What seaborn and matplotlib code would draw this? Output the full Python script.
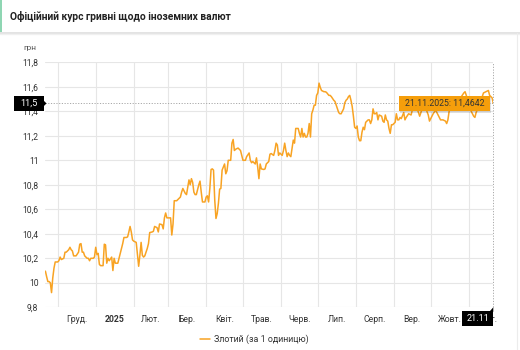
import matplotlib
matplotlib.use("Agg")
import matplotlib.pyplot as plt
import matplotlib.dates as mdates
from matplotlib.patches import Rectangle, Polygon
from matplotlib.lines import Line2D
from matplotlib.transforms import IdentityTransform
import pandas as pd
import seaborn as sns

# ---------------------------------------------------------------- data
title = "Офіційний курс гривні щодо іноземних валют"
unit_label = "грн"
series_name = "Злотий (за 1 одиницю)"

dates = [
    "2024-11-21", "2024-11-22", "2024-11-23", "2024-11-24", "2024-11-25", "2024-11-26",
    "2024-11-27", "2024-11-28", "2024-11-29",
    "2024-12-01", "2024-12-02", "2024-12-03", "2024-12-04", "2024-12-06", "2024-12-07",
    "2024-12-08", "2024-12-10", "2024-12-11", "2024-12-12", "2024-12-13", "2024-12-14",
    "2024-12-16", "2024-12-18", "2024-12-19", "2024-12-20", "2024-12-21", "2024-12-22",
    "2024-12-23", "2024-12-25", "2024-12-26", "2024-12-27", "2024-12-28", "2024-12-30",
    "2024-12-31",
    "2025-01-01", "2025-01-02", "2025-01-03", "2025-01-04", "2025-01-05", "2025-01-07",
    "2025-01-08", "2025-01-09", "2025-01-10", "2025-01-11", "2025-01-12", "2025-01-14",
    "2025-01-15", "2025-01-16", "2025-01-17", "2025-01-19", "2025-01-20", "2025-01-21",
    "2025-01-23", "2025-01-24", "2025-01-26", "2025-01-27", "2025-01-28", "2025-01-29",
    "2025-01-30", "2025-01-31",
    "2025-02-01", "2025-02-03", "2025-02-05", "2025-02-06", "2025-02-07", "2025-02-08",
    "2025-02-09", "2025-02-10", "2025-02-11", "2025-02-12", "2025-02-13", "2025-02-14",
    "2025-02-16", "2025-02-17", "2025-02-18", "2025-02-20", "2025-02-21", "2025-02-22",
    "2025-02-24", "2025-02-25", "2025-02-26", "2025-02-27", "2025-02-28",
    "2025-03-01", "2025-03-03", "2025-03-04", "2025-03-05", "2025-03-06", "2025-03-08",
    "2025-03-09", "2025-03-11", "2025-03-12", "2025-03-13", "2025-03-15", "2025-03-16",
    "2025-03-17", "2025-03-18", "2025-03-19", "2025-03-20", "2025-03-21", "2025-03-22",
    "2025-03-23", "2025-03-24", "2025-03-26", "2025-03-27", "2025-03-28", "2025-03-29",
    "2025-03-31",
    "2025-04-01", "2025-04-02", "2025-04-03", "2025-04-04", "2025-04-05", "2025-04-06",
    "2025-04-07", "2025-04-08", "2025-04-09", "2025-04-10", "2025-04-11", "2025-04-12",
    "2025-04-13", "2025-04-14", "2025-04-16", "2025-04-17", "2025-04-18", "2025-04-19",
    "2025-04-20", "2025-04-21", "2025-04-22", "2025-04-23", "2025-04-24", "2025-04-25",
    "2025-04-27", "2025-04-29", "2025-04-30",
    "2025-05-01", "2025-05-03", "2025-05-04", "2025-05-06", "2025-05-07", "2025-05-08",
    "2025-05-09", "2025-05-11", "2025-05-12", "2025-05-13", "2025-05-14", "2025-05-15",
    "2025-05-16", "2025-05-18", "2025-05-19", "2025-05-20", "2025-05-22", "2025-05-23",
    "2025-05-24", "2025-05-26", "2025-05-27", "2025-05-28", "2025-05-29", "2025-05-30",
    "2025-05-31",
    "2025-06-02", "2025-06-03", "2025-06-04", "2025-06-05", "2025-06-06", "2025-06-07",
    "2025-06-08", "2025-06-09", "2025-06-10", "2025-06-11", "2025-06-12", "2025-06-13",
    "2025-06-15", "2025-06-16", "2025-06-17", "2025-06-18", "2025-06-19", "2025-06-20",
    "2025-06-21", "2025-06-22", "2025-06-23", "2025-06-24", "2025-06-25", "2025-06-26",
    "2025-06-27", "2025-06-28", "2025-06-29", "2025-06-30",
    "2025-07-01", "2025-07-02", "2025-07-03", "2025-07-04", "2025-07-06", "2025-07-07",
    "2025-07-08", "2025-07-10", "2025-07-11", "2025-07-12", "2025-07-14", "2025-07-15",
    "2025-07-16", "2025-07-18", "2025-07-19", "2025-07-20", "2025-07-22", "2025-07-23",
    "2025-07-24", "2025-07-25", "2025-07-26", "2025-07-27", "2025-07-28", "2025-07-29",
    "2025-07-30", "2025-07-31",
    "2025-08-01", "2025-08-02", "2025-08-03", "2025-08-04", "2025-08-05", "2025-08-06",
    "2025-08-07", "2025-08-08", "2025-08-09", "2025-08-10", "2025-08-11", "2025-08-12",
    "2025-08-13", "2025-08-14", "2025-08-15", "2025-08-16", "2025-08-17", "2025-08-18",
    "2025-08-19", "2025-08-20", "2025-08-22", "2025-08-23", "2025-08-24", "2025-08-25",
    "2025-08-26", "2025-08-27", "2025-08-28", "2025-08-29", "2025-08-30", "2025-08-31",
    "2025-09-01", "2025-09-02", "2025-09-03", "2025-09-04", "2025-09-05", "2025-09-06",
    "2025-09-07", "2025-09-09", "2025-09-10", "2025-09-11", "2025-09-13", "2025-09-15",
    "2025-09-16", "2025-09-18", "2025-09-20", "2025-09-22", "2025-09-24", "2025-09-26",
    "2025-09-29", "2025-09-30",
    "2025-10-02", "2025-10-03", "2025-10-05", "2025-10-07", "2025-10-09", "2025-10-11",
    "2025-10-13", "2025-10-14", "2025-10-15", "2025-10-16", "2025-10-18", "2025-10-21",
    "2025-10-24", "2025-10-26", "2025-10-28", "2025-10-29", "2025-10-30",
    "2025-11-01", "2025-11-03", "2025-11-05", "2025-11-06", "2025-11-07", "2025-11-10",
    "2025-11-12", "2025-11-13", "2025-11-15", "2025-11-17", "2025-11-18", "2025-11-20",
    "2025-11-21",
]

rates = [
    10.095, 10.05, 10.01, 10.01, 10.00, 9.92, 10.04, 10.12, 10.17,
    10.17, 10.18, 10.21, 10.19, 10.20, 10.25, 10.25, 10.27, 10.29, 10.27, 10.26, 10.22,
    10.22, 10.25, 10.315, 10.32, 10.25, 10.25, 10.22, 10.20, 10.20, 10.18, 10.20, 10.20,
    10.21,
    10.29, 10.23, 10.24, 10.15, 10.14, 10.14, 10.315, 10.31, 10.16, 10.20, 10.18, 10.21,
    10.10, 10.20, 10.16, 10.16, 10.20, 10.24, 10.32, 10.37, 10.37, 10.375, 10.415, 10.46,
    10.415, 10.35,
    10.34, 10.33, 10.135, 10.225, 10.33, 10.225, 10.21, 10.22, 10.25, 10.28, 10.32, 10.41,
    10.415, 10.42, 10.46, 10.45, 10.415, 10.48, 10.475, 10.44, 10.53, 10.57, 10.53,
    10.53, 10.53, 10.39, 10.48, 10.67, 10.67, 10.68, 10.70, 10.74, 10.77, 10.73, 10.72,
    10.78, 10.84, 10.80, 10.85, 10.82, 10.74, 10.72, 10.72, 10.80, 10.83, 10.74, 10.66,
    10.66,
    10.70, 10.71, 10.66, 10.77, 10.925, 10.93, 10.92, 10.675, 10.525, 10.565, 10.65, 10.765,
    10.77, 10.92, 10.97, 10.89, 10.915, 11.00, 11.00, 11.00, 11.14, 11.17, 11.08, 11.09,
    11.10, 11.08, 11.04,
    11.00, 11.00, 11.03, 11.06, 11.00, 10.98, 10.99, 10.97, 11.02, 10.945, 10.85, 10.97,
    10.93, 10.925, 10.93, 10.97, 10.99, 11.05, 11.055, 11.04, 11.08, 11.14, 11.125, 11.04,
    11.06,
    11.04, 11.08, 11.14, 11.08, 11.03, 11.06, 11.04, 11.03, 11.10, 11.165, 11.14, 11.26,
    11.26, 11.22, 11.19, 11.26, 11.19, 11.22, 11.19, 11.19, 11.22, 11.30, 11.19, 11.38,
    11.41, 11.45, 11.45, 11.53,
    11.55, 11.63, 11.595, 11.57, 11.56, 11.56, 11.555, 11.53, 11.53, 11.52, 11.49, 11.48,
    11.45, 11.39, 11.38, 11.38, 11.42, 11.47, 11.49, 11.50, 11.52, 11.53, 11.49, 11.44,
    11.36, 11.27,
    11.26, 11.28, 11.19, 11.16, 11.16, 11.23, 11.27, 11.25, 11.31, 11.32, 11.33, 11.33,
    11.30, 11.33, 11.42, 11.38, 11.38, 11.39, 11.33, 11.37, 11.36, 11.32, 11.31, 11.37,
    11.33, 11.32, 11.26, 11.22, 11.29, 11.29,
    11.30, 11.31, 11.38, 11.33, 11.33, 11.35, 11.34, 11.39, 11.33, 11.35, 11.38, 11.37,
    11.41, 11.44, 11.42, 11.36, 11.42, 11.45, 11.37, 11.32,
    11.36, 11.38, 11.41, 11.37, 11.33, 11.33, 11.32, 11.30, 11.33, 11.40, 11.45, 11.48,
    11.50, 11.52, 11.55, 11.56, 11.53,
    11.46, 11.40, 11.36, 11.35, 11.39, 11.46, 11.52, 11.55, 11.56, 11.57, 11.53, 11.51,
    11.4642,
]

month_labels = ["Груд.", "2025", "Лют.", "Бер.", "Квіт.", "Трав.", "Черв.",
                "Лип.", "Серп.", "Вер.", "Жовт.", "Лист."]
y_ticks = [9.8, 10.0, 10.2, 10.4, 10.6, 10.8, 11.0, 11.2, 11.4, 11.6, 11.8]

# ---------------------------------------------------------------- style
LINE = "#f8a323"
TOOLTIP = "#f59e0b"
GRID = "#e6e6e6"
TEXT = "#333333"

sns.set_theme(style="white")
plt.rcParams["font.family"] = ["Roboto", "DejaVu Sans"]

df = pd.DataFrame({"date": pd.to_datetime(dates), "rate": rates})

W, H = 520, 350
fig = plt.figure(figsize=(W / 100, H / 100), dpi=100)
fig.patch.set_facecolor("white")


def fx(px):
    return px / W


def fy(py):
    return 1 - py / H


# plot area in pixels (left, top, right, bottom)
PL, PT, PR, PB = 45.4, 62.3, 493.3, 307.3
ax = fig.add_axes([fx(PL), fy(PB), (PR - PL) / W, (PB - PT) / H])
ax.set_facecolor("white")

sns.lineplot(data=df, x="date", y="rate", ax=ax, color=LINE, lw=1.1,
             label=series_name, legend=False)

first, last = df["date"].iloc[0], df["date"].iloc[-1]
ax.set_xlim(first, last)
ax.set_ylim(y_ticks[0], y_ticks[-1])
ax.set_xlabel("")
ax.set_ylabel("")

# month gridlines at month starts, month names centred in each month
month_starts = pd.date_range("2024-12-01", "2025-12-01", freq="MS")
mids = [a + (b - a) / 2 for a, b in zip(month_starts[:-1], month_starts[1:])]
ax.set_xticks(month_starts[:-1])
ax.set_xticklabels([""] * (len(month_starts) - 1))
ax.set_xticks(mids, minor=True)
ax.set_xticklabels(month_labels, minor=True)
for lab in ax.get_xticklabels(minor=True):
    lab.set_fontsize(6.2)
    lab.set_color(TEXT)
    if lab.get_text() == "2025":
        lab.set_fontweight("bold")

ax.set_yticks(y_ticks)
ax.set_yticklabels([f"{v:g}".replace(".", ",") for v in y_ticks])
ax.tick_params(axis="y", length=0, pad=5, labelsize=6.2, labelcolor=TEXT)
ax.tick_params(axis="x", which="both", length=0, pad=5.5)

ax.grid(True, which="major", color=GRID, lw=0.8)
ax.grid(False, which="minor")
for s in ax.spines.values():
    s.set_visible(False)

# crosshair on the last value
last_rate = df["rate"].iloc[-1]
ax.axhline(last_rate, color="#a8a8a8", lw=0.7, ls=(0, (1.2, 1.6)), zorder=1)
ax.axvline(last, color="#a8a8a8", lw=0.7, ls=(0, (1.2, 1.6)), zorder=1, clip_on=False)

fig.canvas.draw()
ID = IdentityTransform()
ax_x, ax_y = ax.transData.transform((mdates.date2num(last), last_rate))
cy = H - ax_y          # crosshair row, top-origin pixels
cx = ax_x              # crosshair column


def add_rect(x0, y0, w, h, **kw):
    fig.add_artist(Rectangle((x0, H - y0 - h), w, h, transform=ID, **kw))


def add_poly(pts, **kw):
    fig.add_artist(Polygon([(x, H - y) for x, y in pts], closed=True, transform=ID, **kw))


# value flag on the y axis
add_rect(14, cy - 7.5, 30, 15, fc="black", ec="none")
add_poly([(43.5, cy - 3), (46.5, cy), (43.5, cy + 3)], fc="black", ec="none")
fig.text(fx(29), fy(cy), f"{last_rate:.1f}".replace(".", ","), color="white",
         fontsize=6.6, ha="center", va="center")

# date flag on the x axis (sits over the last month name)
add_rect(cx - 31, PB + 4, 31, 15, fc="black", ec="none", zorder=5)
add_poly([(cx - 4, PB + 4.5), (cx, PB), (cx, PB + 4.5)], fc="black", ec="none", zorder=5)
fig.text(fx(cx - 15.5), fy(PB + 11.5), last.strftime("%d.%m"), color="white",
         fontsize=6.6, ha="center", va="center", zorder=6)

# tooltip
tw, th = 91, 15.5
tx0 = cx - 3.5 - tw
ty0 = cy - 7.5
add_rect(tx0 + 1.5, ty0 + 1.5, tw, th, fc="#000000", ec="none", alpha=0.12)
add_rect(tx0, ty0, tw, th, fc=TOOLTIP, ec="none")
tooltip_text = f"{last:%d.%m.%Y}: " + f"{last_rate:.4f}".replace(".", ",")
fig.text(fx(tx0 + tw / 2), fy(ty0 + th / 2), tooltip_text,
         color=TEXT, fontsize=6.3, ha="center", va="center")

# unit label
fig.text(fx(23), fy(48), unit_label, fontsize=6, color="#555555", ha="left", va="center")

# legend
handles, labels = ax.get_legend_handles_labels()
fig.legend(handles, labels, loc="center", bbox_to_anchor=(fx(254), fy(339)),
           bbox_transform=fig.transFigure, frameon=False, fontsize=6.4,
           handlelength=1.15, handletextpad=0.45, labelcolor=TEXT)

# header card
fig.add_artist(Rectangle((0, fy(32)), fx(2), 1 - fy(32), transform=fig.transFigure,
                         fc="#8fd6b3", ec="none"))
fig.add_artist(Line2D([0, 1], [fy(32.5), fy(32.5)], transform=fig.transFigure,
                      color="#dedede", lw=1.2))
fig.add_artist(Line2D([0, 1], [fy(34), fy(34)], transform=fig.transFigure,
                      color="#f0f0f0", lw=1.0))
fig.add_artist(Line2D([fx(516.5), fx(516.5)], [fy(33), 0], transform=fig.transFigure,
                      color="#ececec", lw=0.8))
fig.text(fx(10), fy(17), title, fontsize=7.4, fontweight="bold", color="#222222",
         ha="left", va="center")

fig.savefig("out.png", dpi=100, facecolor="white")
